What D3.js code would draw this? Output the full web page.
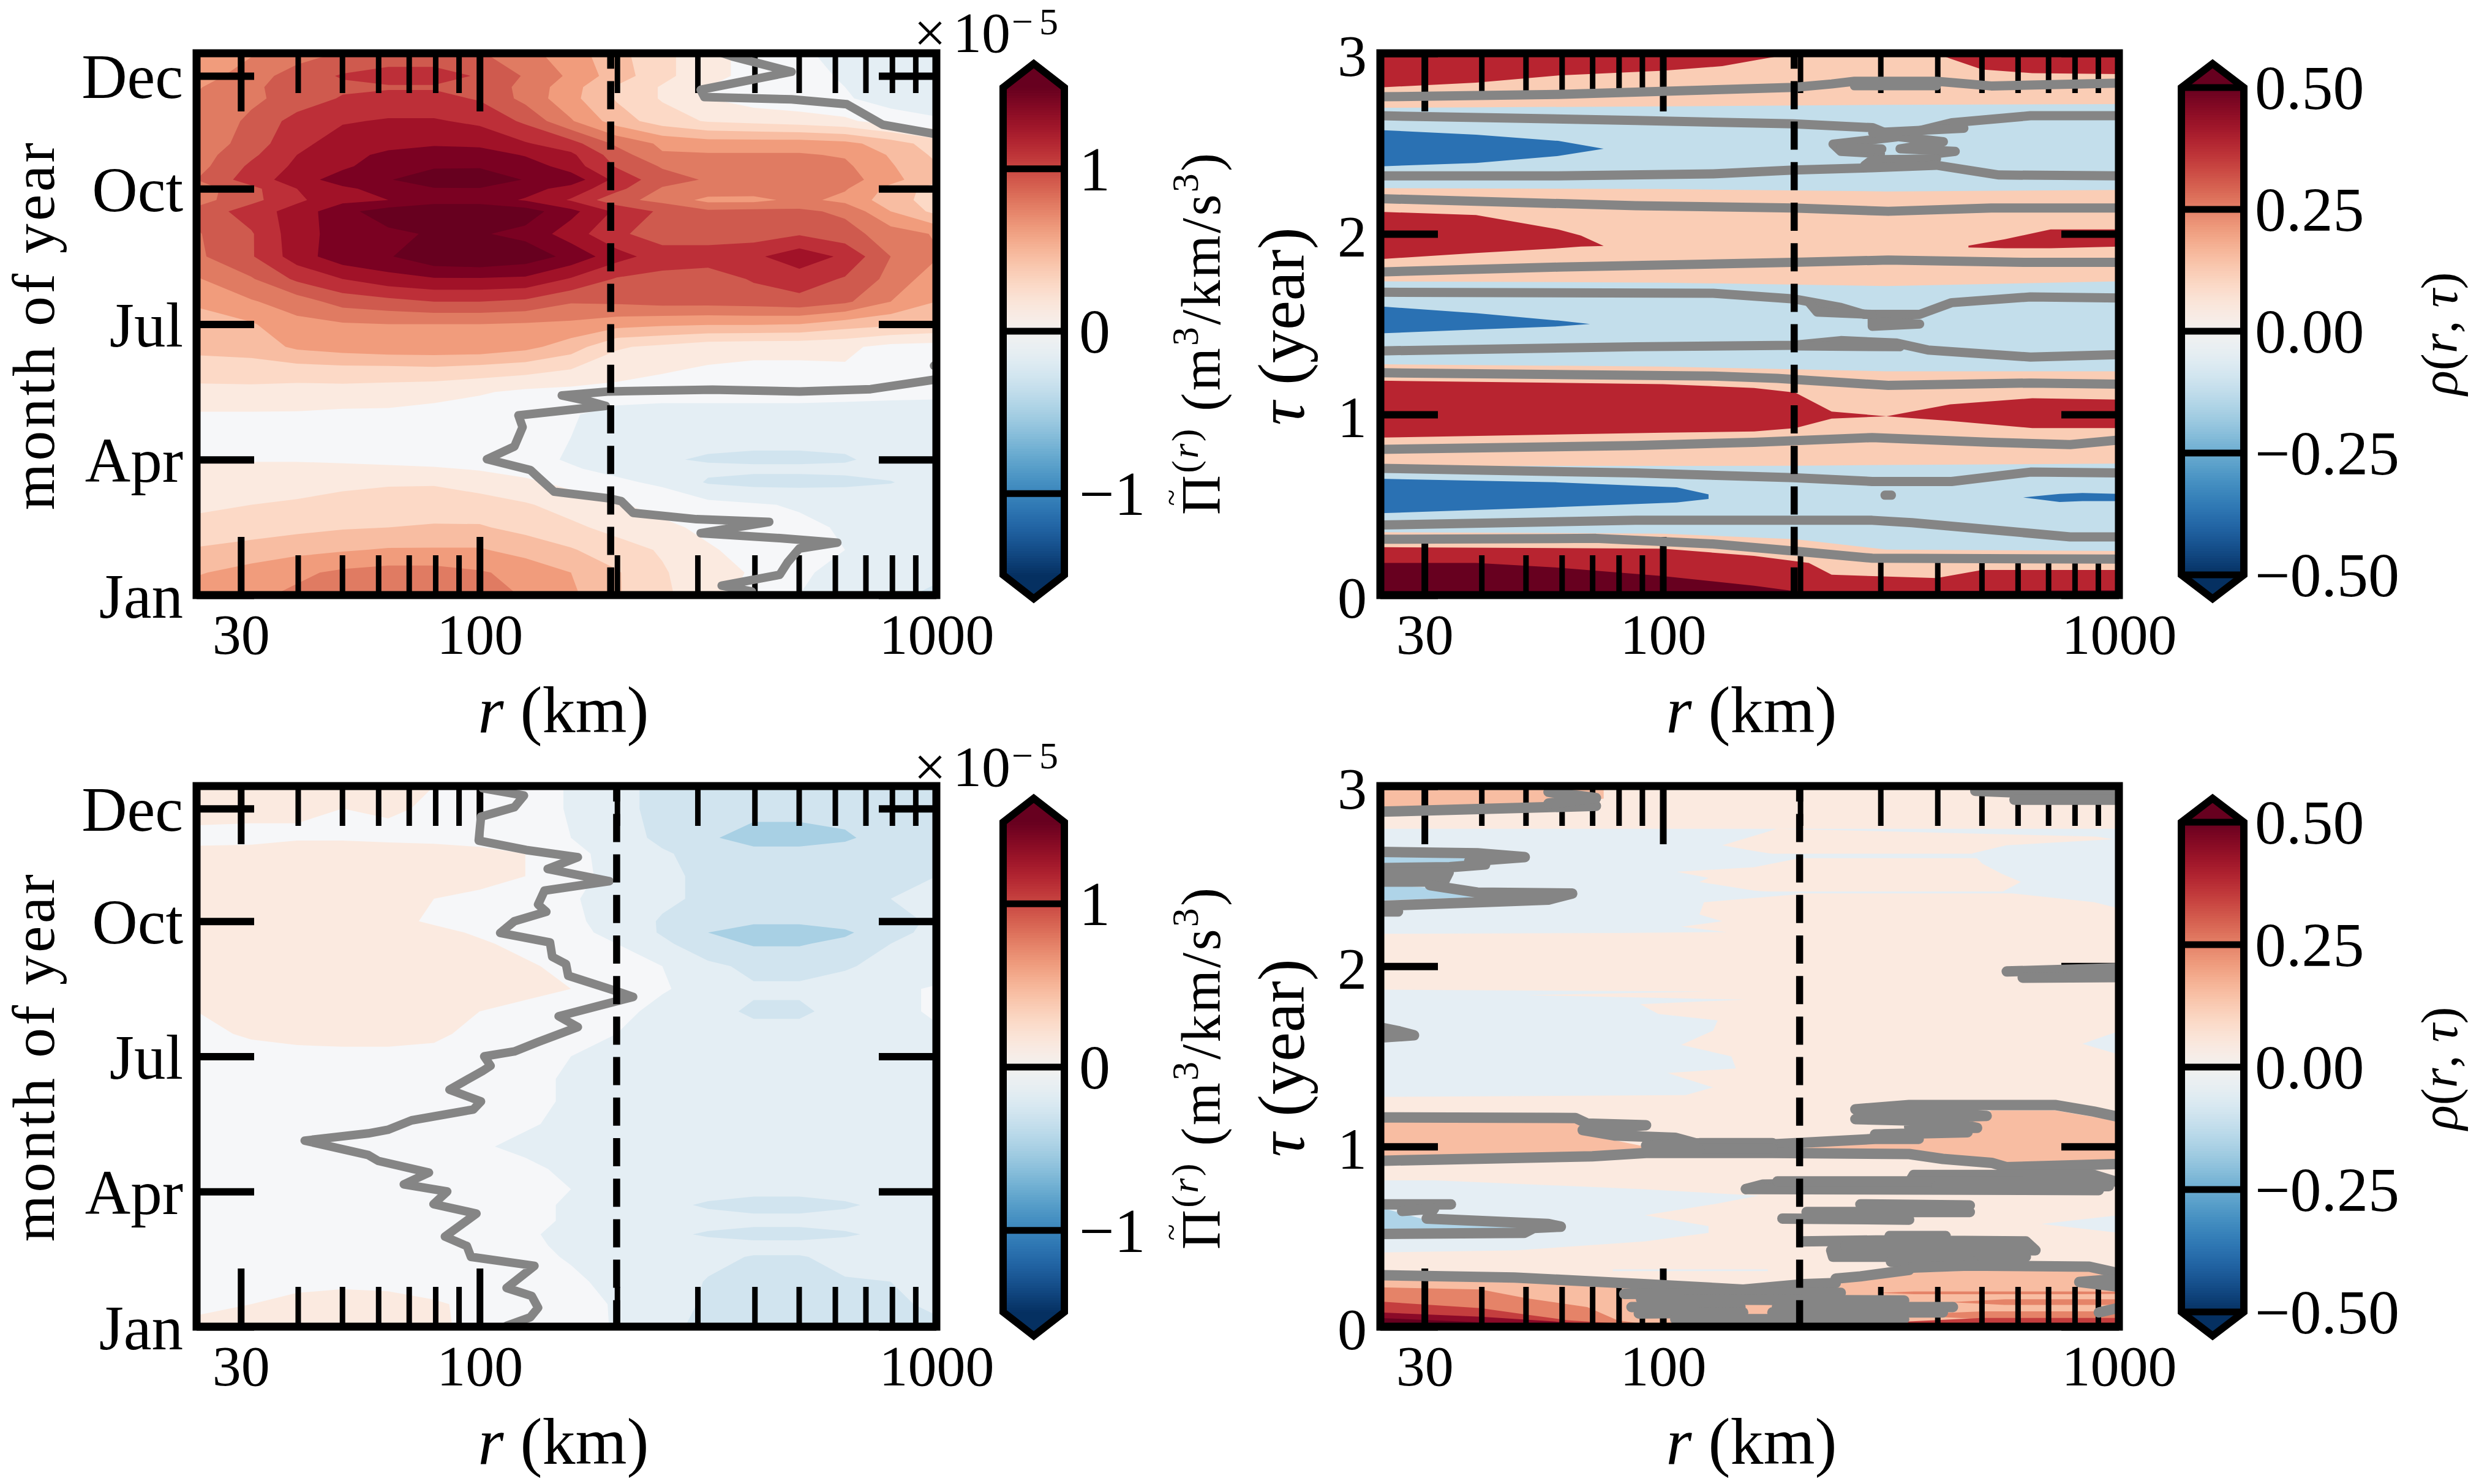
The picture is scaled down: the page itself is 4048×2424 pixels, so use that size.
<!DOCTYPE html>
<html><head><meta charset="utf-8">
<script src="https://cdn.jsdelivr.net/npm/d3@7/dist/d3.min.js"></script>
<style>html,body{margin:0;background:#fff}svg{display:block}text{font-family:"Liberation Serif",serif;fill:#000}</style>
</head><body><svg id="c" width="4048" height="2424"></svg>
<script>
// ---- shared axis values
const xMajor=[30,100,1000], xMinor=[40,50,60,70,80,90,200,300,400,500,600,700,800,900];
const monthTicks=[0,3,6,9,11.5], monthLabels=['Jan','Apr','Jul','Oct','Dec'];
const tauTicks=[0,1,2,3];
// ---- grid of the flux panels: log10 r columns and month rows
const logRGrid=[1.38,1.5,1.6,1.7,1.8,1.9,2,2.1,2.2,2.3,2.4,2.5,2.6,2.7,2.8,2.9,3];
const monthsTop=[0,.5,1,1.5,2,2.5,2.8,3,3.5,4,4.5,5,5.5,6,6.5,7,7.5,8,8.5,8.75,9,9.2,9.5,9.75,10,10.5,11,11.25,11.5,12];
// flux in steps of 0.125e-5
const fluxTop=[
[4,4.3,4.7,5.2,5.4,5.4,5,4.4,3.7,2.6,1.7,.9,.2,-.5,-1,-1.4,-1.6],
[3.4,3.9,4.3,4.7,4.9,4.9,4.6,4.2,3.5,2.6,1.6,.9,.4,-.3,-.9,-1.2,-1.4],
[2.6,2.9,3.2,3.4,3.6,3.6,3.6,3.1,2.6,1.9,1.4,.6,.2,0,-.5,-.8,-1],
[1.8,2,2.2,2.4,2.5,2.6,2.6,2.2,1.7,1.2,.7,.3,0,-.3,-.6,-.8,-.8],
[1.3,1.5,1.6,1.8,1.9,2,1.9,1.6,1.1,.6,.2,-.2,-.4,-.6,-.8,-.8,-.8],
[1.2,1.2,1.2,1.3,1.4,1.4,1.1,.7,.2,-.3,-.7,-1.6,-1.8,-1.8,-1.7,-1.55,-1],
[.8,.8,.8,.8,.7,.6,.4,.1,-.4,-.8,-1.1,-1.3,-1.3,-1.3,-1.3,-1.1,-1],
[.4,.4,.4,.3,.2,.1,0,-.2,-.6,-.9,-1.4,-1.6,-1.7,-1.7,-1.6,-1.2,-1],
[.2,.2,.2,.2,.1,.1,-.1,-.3,-.5,-.9,-1.1,-1.2,-1.2,-1.2,-1.2,-1.1,-1],
[.4,.4,.4,.3,.3,.2,0,-.2,-.4,-.9,-1.1,-1,-1,-1,-1,-1,-.9],
[1.2,1.2,1.1,1.1,1,.8,.6,.3,.2,.1,.1,0,0,0,-.1,-.2,-.3],
[2,2.1,2.1,2.2,2.2,2.3,2.1,1.9,1.5,1,.6,.4,.3,.3,.4,.2,0],
[2.8,2.9,3.7,4,4.2,4.2,4.2,3.8,3,1.6,1.3,.9,.8,.8,.7,.2,.1],
[3.2,3.4,4.2,4.4,4.5,4.5,4.5,4.4,4.3,3.9,3.7,3.6,3.6,3.5,3,2.7,2.4],
[3.6,4.4,5,5.9,6.2,6.5,6.5,6.3,5.6,5.7,5.9,5.9,6,6.2,5.7,4.5,3.5],
[4.4,5.4,6.7,7.5,8.1,8.4,8.4,8.3,7.4,6.4,6.2,6,6.6,7,6.4,5.2,3.9],
[5.3,6.4,8,9.1,9.4,10.3,10.5,10.1,9.2,7.9,7,7,7.3,8.1,7.3,5.5,4.6],
[5.4,6.4,8.1,8.9,9.3,9.6,9.6,9.2,8,6.7,6,6,6,6.4,5.9,5,4.4],
[5.8,7,7.9,9.2,10,10.4,10.4,10,8.8,7.3,6.3,5.7,5.8,5.7,5.3,3.5,2.2],
[5.1,6.2,7.3,8.2,8.5,9,9,8.4,7.4,5.8,5.2,4.2,4.2,4.8,4.2,3,2],
[5,6.2,7.5,8.3,8.9,9.4,9.4,8.9,8.1,6.8,5.4,5.2,5.1,5,4.6,3.2,2],
[5.5,7,8,9,9.4,10.4,10.6,9.4,9.1,7.2,5.9,5.4,5.3,5.2,5,3.8,2.8],
[5.1,6.7,7.7,8.3,9.1,9.3,9.3,9.1,8,6.4,5.4,5,5,5,4.7,3.6,2.6],
[5,6.3,7.5,8.2,8.7,9.2,9.1,8.4,7.7,6,4.6,4.6,4.6,4.6,4.4,3.4,2.3],
[4.7,6,7.2,8,8.2,8.3,8.2,7.6,6.9,5.3,4.3,4,4,4,3.8,3,2],
[4.7,5.7,6.9,7.4,7.6,7.6,7.3,6.3,4.6,3,2,1.4,1.2,1,.7,0,-.3],
[4.6,5.3,5.9,6.6,6.8,6.8,6.4,5.2,3.8,2.4,1.4,.5,0,-.2,-.4,-.9,-1.3],
[4.4,5.3,6,6.3,6.4,6.4,6.2,5.2,3.9,2.4,1.4,.5,0,-.1,-.5,-1,-1.4],
[4,5,6,6.6,6.9,6.9,6.4,5.4,4.3,3,1.8,.8,.2,-.2,-.6,-1,-1.4],
[3.7,4.4,5,5.6,5.9,5.9,5.6,4.8,4,2.8,1.8,.8,.2,-.3,-.9,-1.1,-1.5]];
const monthsBottom=[0,.5,1,1.55,1.8,2.05,2.35,2.7,3.05,3.5,4,4.5,5,5.5,6,6.5,7,7.5,8,8.5,8.75,9,9.5,10,10.5,10.85,11.5,12];
const fluxBottom=[
[.8,.8,.9,.9,.9,.7,.2,.1,0,-.6,-1.3,-1.7,-1.9,-1.9,-1.8,-1.7,-1.6],
[.2,.5,.7,.9,.9,.6,.3,.1,-.1,-.6,-1.2,-1.6,-1.9,-1.9,-1.8,-1.6,-1.4],
[.1,.1,.3,.3,.2,.1,0,-.1,-.3,-.8,-1.1,-1.55,-1.6,-1.6,-1.55,-1.5,-1.2],
[0,0,0,0,0,0,-.1,-.2,-.6,-1,-1.2,-1.3,-1.55,-1.55,-1.3,-1.2,-1.1],
[0,0,0,0,0,0,-.1,-.3,-.7,-1,-1.1,-1.2,-1.2,-1.2,-1.2,-1.1,-1.1],
[0,0,0,0,0,0,-.1,-.4,-.7,-1,-1.3,-1.6,-1.85,-1.85,-1.6,-1.3,-1.1],
[0,0,0,0,0,0,-.1,-.3,-.6,-1,-1.1,-1.2,-1.2,-1.2,-1.2,-1.1,-1.1],
[0,0,0,0,0,0,-.1,-.3,-.6,-1,-1.3,-1.6,-1.85,-1.85,-1.6,-1.3,-1.1],
[0,0,0,0,0,0,-.1,-.2,-.5,-1,-1.1,-1.2,-1.2,-1.2,-1.2,-1.1,-1.1],
[0,0,0,0,0,0,-.1,-.3,-.7,-1,-1.1,-1.2,-1.2,-1.2,-1.2,-1.1,-1.1],
[0,0,0,0,0,0,-.4,-.7,-.8,-1,-1.1,-1.2,-1.2,-1.2,-1.2,-1.1,-1],
[0,0,0,0,0,0,-.2,-.4,-.7,-.9,-1,-1.1,-1.1,-1.1,-1.1,-.9,-.8],
[0,0,0,0,0,0,-.1,-.3,-.6,-.9,-1,-1.1,-1.1,-1.1,-.9,-.6,-.5],
[.1,.1,.1,.1,.1,0,-.1,-.3,-.6,-.9,-1.1,-1.2,-1.2,-1.2,-1,-.9,-.8],
[.2,.2,.2,.2,.2,.2,0,-.2,-.5,-.8,-1.1,-1.3,-1.5,-1.4,-1.2,-.9,-.8],
[.3,.6,.8,.9,.9,.7,.2,.1,0,-.5,-1,-1.2,-1.3,-1.3,-1.1,-.8,-.6],
[.5,.8,.9,.9,.9,.8,.5,.2,.1,-.2,-.8,-1.3,-1.6,-1.6,-1.3,-.7,-.4],
[.9,.9,1,1,1,1,.9,.8,.5,.2,-.4,-.9,-1.4,-1.4,-1.1,-.7,-.4],
[1,1,1,1,1,1,.7,.6,.3,0,-.5,-1.3,-1.7,-1.7,-1.6,-1.2,-1],
[1,1,1,1,1,.9,.6,.3,0,-.5,-1.3,-2.1,-2.6,-2.6,-2.2,-1.5,-1.2],
[1,1,1,1,.9,.7,.4,.2,-.2,-.8,-1.6,-2.5,-3.3,-3.3,-2.7,-1.7,-1.3],
[1,1,1,1,.7,.4,.3,.1,-.3,-.9,-1.6,-2,-2.2,-2.2,-2,-1.7,-1.4],
[.7,.6,.8,.8,.7,.5,.3,.1,-.4,-.9,-1.3,-1.7,-1.9,-1.9,-1.8,-1.5,-1.2],
[.7,.9,1,1,1,.9,.8,.5,-.2,-.8,-1.3,-1.7,-1.9,-1.8,-1.7,-1.6,-1.5],
[.8,.9,1,1,1,1,.8,.5,-.2,-.9,-1.4,-1.8,-2,-2,-1.9,-1.7,-1.6],
[.2,.2,.4,.4,.3,.2,.1,0,-.5,-1.1,-1.7,-2.3,-3.1,-3.1,-2.7,-1.9,-1.7],
[.9,.8,.6,.5,.6,.4,.1,0,-.6,-1.3,-1.7,-1.9,-2,-2,-2,-1.9,-1.8],
[.9,.9,.9,.8,.7,.5,.2,0,-.6,-1.3,-1.7,-1.9,-2,-2,-2,-1.9,-1.9]];
const fluxStepsLevels=[-2,-1,0,1,2,3,4,5,6,7,8,9,10];
const fluxBase='#a8d0e4';
const fluxColors=['#d1e4ef','#e4eef4','#f6f7f9','#fbeae0','#fcd9c6','#f8bda2','#f19c7c','#e07b62','#cf5a4e','#bd2f38','#a11228','#7b0122','#67001f'];
// zero-flux lines [log10 r, month]
const zeroTop=[[[2.596,.08],[2.53,.21],[2.657,.45],[2.674,.72],[2.7,1.03],[2.783,1.16],[2.657,1.26],[2.484,1.37],[2.634,1.62],[2.475,1.68],[2.336,1.82],[2.31,2.08],[2.284,2.14],[2.163,2.29],[2.128,2.61],[2.111,2.77],[2.016,3.01],[2.076,3.29],[2.094,3.72],[2.085,3.98],[2.276,4.19],[2.241,4.29],[2.18,4.42],[2.284,4.51],[2.51,4.55],[2.7,4.51],[2.856,4.56],[2.995,4.77]],
[[2.995,5.08],[3.01,5.08]],
[[3.01,10.19],[2.882,10.42],[2.804,10.87],[2.683,10.98],[2.492,11.03],[2.484,11.19],[2.683,11.59],[2.553,11.93],[2.518,12.05]]];
const zeroBottom=[[[2.059,.02],[2.111,.21],[2.128,.42],[2.114,.68],[2.059,.86],[2.12,1.35],[1.981,1.55],[1.972,1.79],[1.924,2],[1.993,2.51],[1.899,2.72],[1.929,3],[1.834,3.16],[1.889,3.42],[1.778,3.68],[1.756,3.81],[1.617,4.13],[1.756,4.29],[1.799,4.37],[1.851,4.58],[1.986,4.82],[2.003,5],[1.934,5.26],[2.007,5.68],[2.024,5.79],[2.01,6],[2.076,6.11],[2.128,6.32],[2.215,6.65],[2.173,6.89],[2.336,7.32],[2.293,7.47],[2.194,7.79],[2.189,8.05],[2.159,8.21],[2.154,8.53],[2.045,8.74],[2.076,9],[2.146,9.21],[2.128,9.37],[2.142,9.68],[2.284,9.89],[2.149,10.16],[2.215,10.42],[2.102,10.58],[1.998,10.79],[2.003,11.32],[2.076,11.53],[2.097,11.79],[2.007,11.95]]];
// correlation panels: bands of equal colour, tau crossings on log10 r knots
const corrTopBase='#facdb5';
const corrTopBands=[
{fill:'#c3deeb',logR:[1.38,2,2.29,2.49,3],lo:[.348,.34,.309,.252,.244],hi:[.715,.715,.716,.72,.728]},
{fill:'#c3deeb',logR:[1.38,2,2.49,3],lo:[1.278,1.265,1.239,1.239],hi:[1.737,1.73,1.711,1.737]},
{fill:'#c3deeb',logR:[1.38,2,2.49,3],lo:[2.253,2.248,2.235,2.243],hi:[2.698,2.706,2.714,2.719]},
{fill:'#b82430',logR:[1.38,2,2.2,2.29,2.37,2.49,2.63,2.81,3],lo:[.872,.899,.906,.925,.977,.99,.964,.925,.925],hi:[1.187,1.168,1.147,1.121,1.016,.99,1.056,1.09,1.082]},
{fill:'#b82430',logR:[1.38,1.59,1.77,1.82,1.87],lo:[1.86,1.894,1.92,1.93,1.933],hi:[2.122,2.104,2.025,1.991,1.933]},
{fill:'#b82430',logR:[2.67,2.75,2.85,3],lo:[1.925,1.92,1.92,1.93],hi:[1.935,1.97,2.025,2.025]},
{fill:'#b82430',logR:[1.38,1.59,1.77,2,2.13,2.2,2.29],lo:[2.811,2.837,2.877,2.903,2.929,2.96,3],hi:[3,3,3,3,3,3,3]},
{fill:'#b82430',logR:[2.6,2.63,2.7,2.81,3],lo:[3,2.97,2.91,2.89,2.885],hi:[3,3,3,3,3]},
{fill:'#b82430',logR:[1.38,2,2.2,2.32,2.37,2.46,2.6,2.7,3],lo:[0,0,0,0,0,0,0,0,0],hi:[.265,.257,.217,.178,.113,.105,.094,.139,.139]},
{fill:'#67001f',logR:[1.38,1.59,1.77,2,2.2,2.29,3],lo:[0,0,0,0,0,0,0],hi:[.178,.178,.152,.105,.052,.021,.026]},
{fill:'#2a71b3',logR:[1.38,1.59,1.77,1.87],lo:[2.374,2.392,2.431,2.471],hi:[2.575,2.549,2.515,2.471]},
{fill:'#2a71b3',logR:[1.38,1.59,1.77,1.84],lo:[1.449,1.47,1.488,1.501],hi:[1.598,1.561,1.52,1.501]},
{fill:'#2a71b3',logR:[1.38,1.77,2.03,2.1],lo:[.453,.487,.513,.532],hi:[.644,.624,.597,.558]},
{fill:'#2a71b3',logR:[2.79,2.87,2.92,3],lo:[.541,.515,.52,.52],hi:[.541,.56,.565,.56]}];
const grayTop=[
[[1.38,2.759],[1.77,2.772],[2.286,2.811],[2.37,2.83],[2.42,2.845],[2.6,2.845],[2.72,2.819],[3,2.835]],
[[2.42,2.82],[2.6,2.82]],
[[1.38,2.654],[1.94,2.628],[2.286,2.609],[2.46,2.588],[2.511,2.536],[2.373,2.497],[2.39,2.457],[2.477,2.444],[2.442,2.379],[2.581,2.384],[2.598,2.444],[2.641,2.457],[2.52,2.471],[2.615,2.51],[2.511,2.54],[2.633,2.615],[2.806,2.654],[3,2.654]],
[[2.46,2.56],[2.66,2.585]],[[2.39,2.48],[2.48,2.47]],[[2.46,2.41],[2.6,2.415]],
[[1.38,2.321],[1.77,2.321],[2.11,2.332],[2.286,2.353],[2.459,2.366],[2.6,2.38],[2.737,2.326],[3,2.321]],
[[1.38,2.195],[1.94,2.156],[2.286,2.143],[2.494,2.125],[2.72,2.143],[3,2.143]],
[[1.38,1.789],[1.77,1.816],[2.286,1.842],[2.494,1.855],[2.806,1.842],[3,1.842]],
[[1.38,1.677],[2.11,1.671],[2.286,1.64],[2.39,1.593],[2.442,1.554],[2.563,1.554],[2.633,1.619],[2.806,1.651],[3,1.645]],
[[2.321,1.619],[2.338,1.567],[2.459,1.554],[2.459,1.488],[2.563,1.501],[2.477,1.514]],
[[1.38,1.352],[1.94,1.375],[2.286,1.383],[2.39,1.409],[2.511,1.396],[2.581,1.357],[2.806,1.318],[3,1.331]],
[[2.29,1.38],[2.52,1.375]],
[[1.38,1.231],[2.11,1.213],[2.25,1.2],[2.494,1.161],[2.806,1.174],[3,1.168]],
[[1.38,.807],[1.94,.828],[2.199,.846],[2.459,.872],[2.719,.846],[2.893,.833],[3,.859]],
[[1.38,.702],[1.94,.676],[2.286,.65],[2.459,.629],[2.633,.629],[2.806,.681],[3,.676]],
[[1.38,.388],[1.94,.414],[2.459,.414],[2.546,.401],[2.719,.362],[2.893,.322],[3,.322]],
[[1.38,.309],[1.853,.314],[2.11,.283],[2.286,.244],[2.459,.204],[3,.199]],
[[2.487,.553],[2.501,.553]]];
const corrBottomBase='#fbeae0';
const paleBlue='#e5eef4', midBlue='#afd4e8', peach2='#f8bda2', salmon='#e58368', red2='#c43e3e', wine='#8b0a28', wineDark='#67001f';
// bands running along tau: right/left edge in log10 r at tau knots
const corrBottomStrips=[
{fill:paleBlue,tau:[2.763,2.739,2.671,2.64,2.6,2.55,2.524,2.49,2.468,2.42,2.4,2.355,2.287,2.25,2.219,2.19,2.185,2.18],from:Array(18).fill(1.38),to:[2.25,2.22,2.13,2.2,2.3,2.2,2.03,2.1,2.08,2.2,2.3,2.09,2.08,2.13,2.04,2.14,1.9,1.38]},
{fill:paleBlue,tau:[2.763,2.72,2.705,2.671,2.626,2.57,2.513,2.468,2.411,2.355,2.321],from:[2.25,2.95,2.988,2.753,2.678,2.7,2.743,2.785,2.743,2.946,3],to:Array(11).fill(3.01)},
{fill:paleBlue,tau:[2.625,2.6],from:[2.2,2.2],to:[2.7,2.7]},
{fill:paleBlue,tau:[2.415,2.405],from:[2.2,2.2],to:[2.8,2.8]},
{fill:paleBlue,tau:[1.87,1.86,1.84,1.815,1.79,1.735,1.7,1.643,1.564,1.5,1.433,1.407,1.328,1.285,1.275],from:Array(15).fill(1.38),to:[1.38,2.1,1.7,2.18,1.95,1.99,2.12,2.11,2.04,2.15,2.16,2.01,2.11,2.05,1.38]},
{fill:paleBlue,tau:[1.64,1.57,1.51],from:[3,2.92,3],to:[3.01,3.01,3.01]},
{fill:paleBlue,tau:[.618,.57,.521],from:[3,2.83,3],to:[3.01,3.01,3.01]},
{fill:paleBlue,tau:[.812,.764,.727,.679,.618,.558,.521,.473,.424,.412],from:Array(10).fill(1.38),to:[1.5,1.95,2.21,2.11,1.96,2.1,2.1,1.96,1.68,1.38]},
{fill:paleBlue,tau:[.318,.308],from:[1.89,1.89],to:[2.23,2.23]}];
const corrBottomBands=[
{fill:midBlue,logR:[1.38,1.58],lo:[2.557,2.567],hi:[2.607,2.6]},
{fill:midBlue,logR:[1.38,1.67],lo:[2.365,2.39],hi:[2.456,2.4]},
{fill:midBlue,logR:[1.38,1.47,1.7],lo:[.533,.533,.545],hi:[.661,.6,.56]},
{fill:peach2,logR:[1.38,1.77,1.87],lo:[2.88,2.9,2.93],hi:[3,3,3]},
{fill:peach2,logR:[1.38,1.81,1.83,1.89,1.96],lo:[.93,.95,.955,.965,.988],hi:[1.135,1.135,1.08,1.036,1]},
{fill:peach2,logR:[2.304,2.465,2.636,2.721,2.86,3],lo:[.988,.96,.94,.91,.9,.9],hi:[.988,1.042,1.127,1.2,1.2,1.14]},
{fill:peach2,logR:[1.38,1.67,1.96,2.2,2.31,2.38,2.433,2.54,2.72,2.913,3],lo:Array(11).fill(0),hi:[.26,.245,.225,.21,.21,.23,.279,.3,.315,.315,.28]},
{fill:salmon,logR:[1.38,1.6,1.7,1.834,1.9,2],lo:Array(6).fill(0),hi:[.218,.206,.158,.109,.036,0]},
{fill:red2,logR:[1.38,1.6,1.7,1.79,1.9],lo:Array(5).fill(0),hi:[.139,.103,.067,.036,.018]},
{fill:wine,logR:[1.38,1.6,1.79,1.85],lo:Array(4).fill(0),hi:[.079,.055,.024,.01]},
{fill:wineDark,logR:[1.38,1.6,1.7],lo:Array(3).fill(0),hi:[.048,.024,0]},
{fill:salmon,logR:[2.47,2.55,2.9,3],lo:[.188,.18,.18,.182],hi:[.188,.195,.195,.194]},
{fill:salmon,logR:[2.63,2.75,3],lo:[.136,.121,.121],hi:[.136,.152,.152]},
{fill:salmon,logR:[2.52,2.7,3],lo:[.065,.042,.042],hi:[.065,.085,.085]},
{fill:salmon,logR:[2.03,2.47],lo:[0,0],hi:[.012,.012]},
{fill:red2,logR:[2.47,2.7,3],lo:[0,0,0],hi:[.02,.048,.048]},
{fill:wine,logR:[2.7,3],lo:[0,0],hi:[.02,.02]}];
const grayBottom=[
[[1.388,1.161],[1.808,1.158],[1.834,1.127],[1.963,1.118],[1.824,1.091],[1.893,1.061],[2.027,1.048],[2.08,1.012],[2.24,1.012],[2.465,1.042],[2.561,1.042],[2.465,1.067],[2.668,1.079],[2.54,1.109],[2.689,1.103],[2.625,1.139],[2.422,1.152],[2.71,1.17],[2.422,1.206],[2.54,1.23],[2.86,1.23],[2.945,1.194],[3,1.164]],
[[1.388,.921],[1.845,.945],[1.963,.964],[2.24,.964],[2.54,.958],[2.614,.931],[2.721,.909],[2.753,.885],[3,.903]],
[[1.963,1.006],[2.08,1.018],[2.24,1.018]],[[2.08,.988],[2.24,.988]],[[1.963,.98],[2.08,.98]],
[[2.182,.764],[2.219,.788],[2.54,.8],[2.55,.842],[2.945,.842],[3,.8]],
[[2.182,.764],[2.956,.758]],[[2.251,.806],[2.978,.806]],[[2.6,.78],[2.978,.78]],
[[2.262,.6],[2.54,.594],[2.315,.636],[2.673,.636],[2.433,.679],[2.673,.673]],
[[2.304,.473],[2.486,.479],[2.796,.473],[2.817,.424],[2.369,.424],[2.373,.388],[2.796,.388],[2.54,.345],[2.497,.503],[2.62,.503]],
[[2.4,.45],[2.8,.45]],[[2.5,.36],[2.68,.36]],
[[2.54,.327],[2.668,.339],[2.935,.333],[2.988,.303]],
[[3.01,.267],[2.913,.248],[3.01,.218]],
[[2.379,.267],[2.433,.279],[2.54,.315]],
[[1.388,.285],[1.674,.273],[1.957,.236],[2.176,.206],[2.31,.236],[2.379,.242]],
[[1.915,.182],[2.39,.188]],[[1.952,.152],[2.529,.145]],[[1.931,.109],[2.17,.109]],[[2.25,.109],[2.636,.109]],[[1.947,.073],[2.176,.079]],[[2.24,.079],[2.614,.079]],[[2.027,.042],[2.529,.042]],
[[2.956,.079],[3.01,.11]],
[[1.388,.679],[1.535,.679]],[[1.428,.642],[1.498,.655],[1.482,.6],[1.749,.57],[1.776,.555],[1.717,.548],[1.696,.521],[1.388,.515]],
[[1.38,2.635],[1.593,2.627],[1.697,2.606],[1.575,2.583],[1.61,2.565],[1.532,2.55],[1.38,2.545]],
[[1.38,2.52],[1.53,2.52],[1.52,2.47],[1.38,2.47]],
[[1.489,2.45],[1.593,2.409],[1.801,2.404],[1.749,2.37],[1.38,2.335]],
[[1.38,2.304],[1.419,2.304]],
[[1.38,2.858],[1.853,2.89]],[[1.749,2.968],[1.801,2.95],[1.853,2.934],[1.749,2.903]],
[[2.685,2.974],[2.806,2.961],[3.01,2.961]],[[2.771,2.924],[3.01,2.924]],
[[2.754,1.971],[3.01,1.99]],[[2.789,1.937],[3.01,1.94]],
[[1.38,1.66],[1.42,1.64],[1.454,1.617],[1.38,1.604]]];
// ---- layout
const svg=d3.select('#c');
const defs=svg.append('defs');
const panels={
 tl:{x0:321,x1:1529,y0:972,y1:87,dash:193.6,gw:14},
 bl:{x0:321,x1:1529,y0:2167,y1:1284,dash:199.5,gw:14},
 tr:{x0:2254,x1:3460,y0:972,y1:87,dash:194,gw:15},
 br:{x0:2254,x1:3460,y0:2167,y1:1284,dash:199.4,gw:17}};
const GRAY='#858585', SP=12;
function setup(p,domainY,id){
 const x=d3.scaleLog().domain([24,1000]).range([p.x0,p.x1]);
 const y=d3.scaleLinear().domain(domainY).range([p.y0,p.y1]);
 defs.append('clipPath').attr('id',id).append('rect').attr('x',p.x0).attr('y',p.y1).attr('width',p.x1-p.x0).attr('height',p.y0-p.y1);
 const g=svg.append('g').attr('clip-path',`url(#${id})`);
 return {x,y,g,lx:l=>x(Math.pow(10,l))};
}
function contourFill(c,rows,rowVals,levels,base,colors,p){
 c.g.append('rect').attr('x',p.x0).attr('y',p.y1).attr('width',p.x1-p.x0).attr('height',p.y0-p.y1).attr('fill',base);
 const n=logRGrid.length,m=rowVals.length;
 const fx=d3.scaleLinear().domain(logRGrid.map((_,i)=>i+.5)).range(logRGrid);
 const fy=d3.scaleLinear().domain(rowVals.map((_,i)=>i+.5)).range(rowVals);
 const contours=d3.contours().size([n,m]).thresholds(levels.map(k=>k-.5))(rows.flat());
 const path=d3.geoPath();
 contours.forEach((ct,i)=>{
  const geo={type:'MultiPolygon',coordinates:ct.coordinates.map(poly=>poly.map(ring=>ring.map(([a,b])=>[c.lx(fx(a)),c.y(fy(b))])))};
  c.g.append('path').attr('d',path(geo)).attr('fill',colors[i]);
 });
}
function bands(c,list){
 const a=d3.area().x(d=>c.lx(d.l)).y0(d=>c.y(d.lo)).y1(d=>c.y(d.hi));
 list.forEach(b=>c.g.append('path').attr('fill',b.fill)
  .attr('d',a(b.logR.map((l,i)=>({l,lo:b.lo[i],hi:b.hi[i]})))));
}
function strips(c,list){
 const a=d3.area().y(d=>c.y(d.t)).x0(d=>c.lx(d.a)).x1(d=>c.lx(d.b));
 list.forEach(b=>c.g.append('path').attr('fill',b.fill)
  .attr('d',a(b.tau.map((t,i)=>({t,a:b.from[i],b:b.to[i]})))));
}
function xyAxes(c,p,yTicks,yFmt,ySize){
 const tick=(gen,sw,fmt)=>{
  const s=svg.append('g').call(gen);
  s.select('.domain').remove();
  s.selectAll('line').attr('stroke','#000').attr('stroke-width',sw);
  if(!fmt) s.selectAll('text').remove();
  return s;
 };
 const b=tick(d3.axisBottom(c.x).tickValues(xMajor).tickSize(-95).tickFormat(d3.format('d')),11,true).attr('transform',`translate(0,${p.y0})`);
 b.selectAll('text').attr('y',96).attr('dy',0).attr('font-size',94);
 tick(d3.axisBottom(c.x).tickValues(xMinor).tickSize(-65),9).attr('transform',`translate(0,${p.y0})`);
 tick(d3.axisTop(c.x).tickValues(xMajor).tickSize(-95),11).attr('transform',`translate(0,${p.y1})`);
 tick(d3.axisTop(c.x).tickValues(xMinor).tickSize(-65),9).attr('transform',`translate(0,${p.y1})`);
 const l=tick(d3.axisLeft(c.y).tickValues(yTicks).tickSize(-94).tickFormat(yFmt),12,true).attr('transform',`translate(${p.x0},0)`);
 l.selectAll('text').attr('x',-22).attr('dy',0).attr('y',36).attr('font-size',ySize);
 tick(d3.axisRight(c.y).tickValues(yTicks).tickSize(-94),12).attr('transform',`translate(${p.x1},0)`);
}
function grayLines(c,lines,w){
 const ln=d3.line().x(d=>c.lx(d[0])).y(d=>c.y(d[1]));
 lines.forEach(L=>c.g2.append('path').attr('d',ln(L)).attr('fill','none').attr('stroke',GRAY).attr('stroke-width',w).attr('stroke-linecap','round').attr('stroke-linejoin','round'));
}
function frame(c,p){
 c.g3=svg.append('g');
 c.g3.append('line').attr('x1',c.x(p.dash)).attr('x2',c.x(p.dash)).attr('y1',p.y1).attr('y2',p.y0)
  .attr('stroke','#000').attr('stroke-width',11.5).attr('stroke-dasharray','46 20.2').attr('stroke-dashoffset',20.8);
 c.g3.append('rect').attr('x',p.x0).attr('y',p.y1).attr('width',p.x1-p.x0).attr('height',p.y0-p.y1).attr('fill','none').attr('stroke','#000').attr('stroke-width',SP+1);
}
function colorbar(x0,x1,yTop,yBot,vmax,ticks,fmt,labelX){
 const s=d3.scaleLinear().domain([-vmax,vmax]).range([yBot,yTop]);
 const color=d3.scaleLinear().domain([-vmax,vmax]).range([1,0]);
 const g=svg.append('g');
 d3.range(0,200).forEach(i=>{const v0=-vmax+i*2*vmax/200,v1=v0+2*vmax/200;
  g.append('rect').attr('x',x0).attr('width',x1-x0).attr('y',s(v1)).attr('height',s(v0)-s(v1)+1).attr('fill',d3.interpolateRdBu(color((v0+v1)/2)));});
 const mx=(x0+x1)/2,tip=39;
 g.append('path').attr('d',`M${x0},${yTop}L${mx},${yTop-tip}L${x1},${yTop}Z`).attr('fill','#67001f');
 g.append('path').attr('d',`M${x0},${yBot}L${mx},${yBot+tip}L${x1},${yBot}Z`).attr('fill','#053061');
 ticks.forEach(t=>{
  g.append('line').attr('x1',x0).attr('x2',x1).attr('y1',s(t)).attr('y2',s(t)).attr('stroke','#000').attr('stroke-width',11);
  g.append('text').attr('x',labelX).attr('y',s(t)+35).attr('font-size',102).text(fmt(t));
 });
 g.append('path').attr('d',`M${x0},${yTop}L${mx},${yTop-tip}L${x1},${yTop}L${x1},${yBot}L${mx},${yBot+tip}L${x0},${yBot}Z`).attr('fill','none').attr('stroke','#000').attr('stroke-width',12).attr('stroke-linejoin','miter');
}
const minus=s=>s.replace('-','\u2212');
function xLabel(cx,y){const t=svg.append('text').attr('x',cx).attr('y',y).attr('text-anchor','middle').attr('font-size',108);
 t.append('tspan').attr('font-style','italic').text('r');t.append('tspan').text(' (km)');}
function rotLabel(x,y,size,build,anchor){const t=svg.append('text').attr('transform',`translate(${x},${y}) rotate(-90)`).attr('text-anchor',anchor||'middle').attr('font-size',size);build(t);return t;}
function piLabel(x,yStart){
 const up=36;
 rotLabel(x,yStart,90,t=>{
  t.attr('textLength',591).attr('lengthAdjust','spacing');
  t.append('tspan').text('\u03A0');
  t.append('tspan').attr('dy',-up).attr('font-size',62).text('(');
  t.append('tspan').attr('font-size',62).attr('font-style','italic').text('r');
  t.append('tspan').attr('font-size',62).text(')');
  t.append('tspan').attr('dy',up).text(' (m');
  t.append('tspan').attr('dy',-up).attr('font-size',62).text('3');
  t.append('tspan').attr('dy',up).text('/km/s');
  t.append('tspan').attr('dy',-up).attr('font-size',62).text('3');
  t.append('tspan').attr('dy',up).text(')');
 },'start');
 rotLabel(x-63,yStart-28,50,t=>t.text('~'));
}
function rhoLabel(t){
 t.append('tspan').attr('font-style','italic').text('\u03C1');t.append('tspan').text('(');
 t.append('tspan').attr('font-style','italic').text('r');t.append('tspan').text(', ');
 t.append('tspan').attr('font-style','italic').text('\u03C4');t.append('tspan').text(')');
}
function expo(y){
 svg.append('text').attr('x',1492).attr('y',y).attr('font-size',94).text('\u00D7');
 svg.append('text').attr('x',1556).attr('y',y).attr('font-size',94).text('10');
 svg.append('text').attr('x',1652).attr('y',y-29).attr('font-size',62).attr('letter-spacing',10).text('\u22125');
}
// ---- draw
function panel(key,domainY,yTicks,yFmt,ySize,fill,lines){
 const p=panels[key];
 const c=setup(p,domainY,'clip-'+key);
 fill(c,p);
 xyAxes(c,p,yTicks,yFmt,ySize);
 c.g2=svg.append('g').attr('clip-path',`url(#clip-${key})`);
 grayLines(c,lines,p.gw);
 frame(c,p);
}
const monthFmt=d=>monthLabels[monthTicks.indexOf(d)];
panel('tl',[0,12],monthTicks,monthFmt,103,(c,p)=>contourFill(c,fluxTop,monthsTop,fluxStepsLevels,fluxBase,fluxColors,p),zeroTop);
panel('bl',[0,12],monthTicks,monthFmt,103,(c,p)=>contourFill(c,fluxBottom,monthsBottom,fluxStepsLevels,fluxBase,fluxColors,p),zeroBottom);
panel('tr',[0,3],tauTicks,d3.format('d'),96,(c,p)=>{c.g.append('rect').attr('x',p.x0).attr('y',p.y1).attr('width',p.x1-p.x0).attr('height',p.y0-p.y1).attr('fill',corrTopBase);bands(c,corrTopBands);},grayTop);
panel('br',[0,3],tauTicks,d3.format('d'),96,(c,p)=>{c.g.append('rect').attr('x',p.x0).attr('y',p.y1).attr('width',p.x1-p.x0).attr('height',p.y0-p.y1).attr('fill',corrBottomBase);strips(c,corrBottomStrips);bands(c,corrBottomBands);},grayBottom);
const fluxFmt=d=>minus(String(d));
const corrFmt=d=>minus(d3.format('.2f')(d));
colorbar(1638,1738,143,939,1.5,[-1,0,1],fluxFmt,1762);
colorbar(1638,1738,1343,2143,1.5,[-1,0,1],fluxFmt,1762);
colorbar(3562,3664,143,939,.5,[-.5,-.25,0,.25,.5],corrFmt,3682);
colorbar(3562,3664,1343,2143,.5,[-.5,-.25,0,.25,.5],corrFmt,3682);
[[920,1196],[920,2391],[2860,1196],[2860,2391]].forEach(d=>xLabel(d[0],d[1]));
[[88,531],[88,1726]].forEach(d=>rotLabel(d[0],d[1],98,t=>t.attr('letter-spacing',4.2).text('month of year')));
[[2129,533],[2129,1728]].forEach(d=>rotLabel(d[0],d[1],108,t=>{t.append('tspan').attr('font-style','italic').text('\u03C4');t.append('tspan').text(' (year)');}));
piLabel(1992,841);piLabel(1992,2041);
[[4012,545],[4012,1745]].forEach(d=>rotLabel(d[0],d[1],84,rhoLabel));
expo(85);expo(1284);
</script></body></html>
